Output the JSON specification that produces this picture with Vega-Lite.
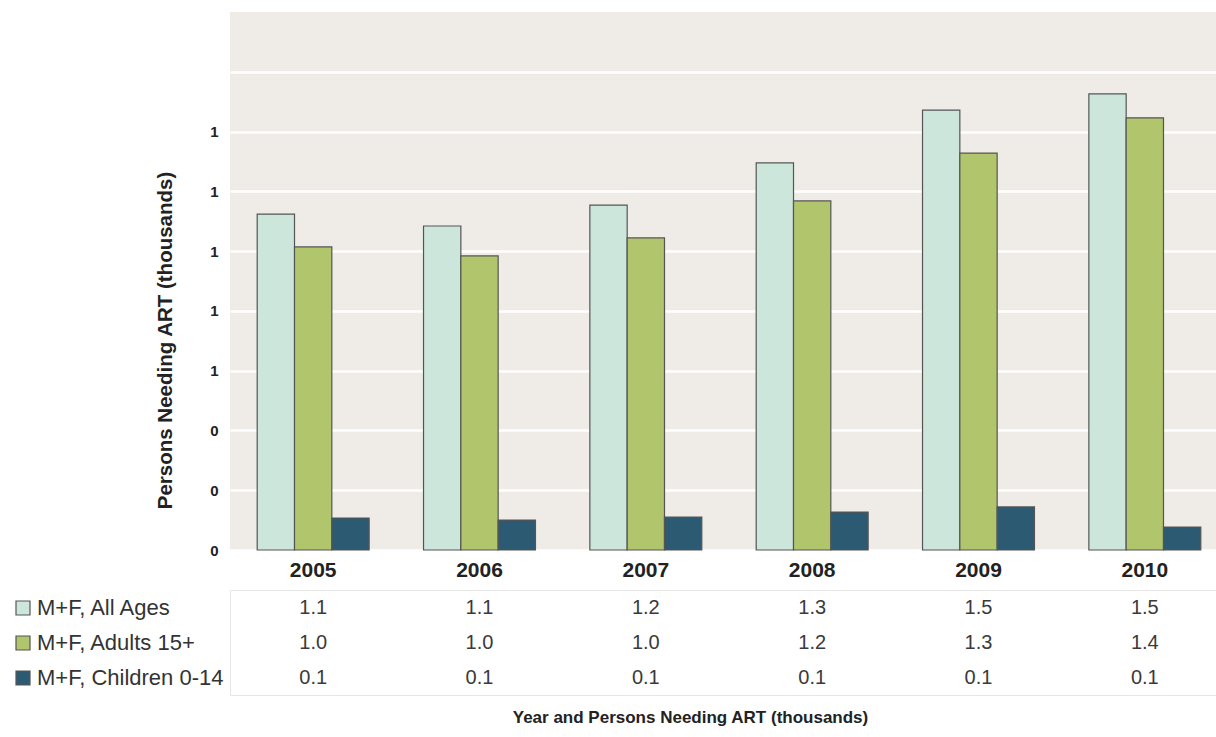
{
  "$schema": "https://vega.github.io/schema/vega-lite/v6.json",
  "padding": {"left": 12, "top": 12, "right": 0, "bottom": 0},
  "bounds": "flush",
  "spacing": 40,
  "config": {
    "font": "Liberation Sans",
    "axis": {"labelFont": "Liberation Sans", "titleFont": "Liberation Sans"},
    "legend": {"labelFont": "Liberation Sans"}
  },
  "datasets": {
    "art": [
      {"year": "2005", "series": "M+F, All Ages", "value": 1.124},
      {"year": "2006", "series": "M+F, All Ages", "value": 1.084},
      {"year": "2007", "series": "M+F, All Ages", "value": 1.154},
      {"year": "2008", "series": "M+F, All Ages", "value": 1.295},
      {"year": "2009", "series": "M+F, All Ages", "value": 1.472},
      {"year": "2010", "series": "M+F, All Ages", "value": 1.526},
      {"year": "2005", "series": "M+F, Adults 15+", "value": 1.014},
      {"year": "2006", "series": "M+F, Adults 15+", "value": 0.984},
      {"year": "2007", "series": "M+F, Adults 15+", "value": 1.044},
      {"year": "2008", "series": "M+F, Adults 15+", "value": 1.168},
      {"year": "2009", "series": "M+F, Adults 15+", "value": 1.328},
      {"year": "2010", "series": "M+F, Adults 15+", "value": 1.446},
      {"year": "2005", "series": "M+F, Children 0-14", "value": 0.107},
      {"year": "2006", "series": "M+F, Children 0-14", "value": 0.100},
      {"year": "2007", "series": "M+F, Children 0-14", "value": 0.110},
      {"year": "2008", "series": "M+F, Children 0-14", "value": 0.127},
      {"year": "2009", "series": "M+F, Children 0-14", "value": 0.144},
      {"year": "2010", "series": "M+F, Children 0-14", "value": 0.077}
    ]
  },
  "vconcat": [
    {
      "width": 986,
      "height": 538,
      "view": {"fill": "#efece7", "stroke": null},
      "data": {"name": "art"},
      "mark": {"type": "bar", "stroke": "#555555", "strokeWidth": 1.2},
      "encoding": {
        "x": {
          "field": "year", "type": "nominal",
          "scale": {"range": [0, 998], "paddingInner": 0.327, "paddingOuter": 0.1635},
          "axis": {"title": null, "labelAngle": 0, "ticks": false, "domain": false, "labelPadding": 9, "labelFontSize": 21, "labelFontWeight": "bold", "labelColor": "#222222"}
        },
        "xOffset": {
          "field": "series", "type": "nominal",
          "sort": ["M+F, All Ages", "M+F, Adults 15+", "M+F, Children 0-14"],
          "scale": {"paddingInner": 0, "paddingOuter": 0}
        },
        "y": {
          "field": "value", "type": "quantitative",
          "scale": {"domain": [0, 1.8], "nice": false},
          "axis": {
            "title": "Persons Needing ART (thousands)",
            "titleFontSize": 20.5, "titleFontWeight": "bold", "titleColor": "#222222",
            "titleX": -65, "titleY": 328, "titleBaseline": "middle", "titleAngle": -90, "titleAlign": "center",
            "values": [0, 0.2, 0.4, 0.6, 0.8, 1.0, 1.2, 1.4, 1.6],
            "labelExpr": "datum.value > 1.5 ? '' : format(datum.value, '.0f')",
            "labelFontSize": 15, "labelFontWeight": "bold", "labelColor": "#222222", "labelPadding": 12,
            "ticks": false, "domain": false,
            "grid": true, "gridColor": "#ffffff", "gridWidth": 2.5
          }
        },
        "color": {
          "field": "series", "type": "nominal",
          "sort": ["M+F, All Ages", "M+F, Adults 15+", "M+F, Children 0-14"],
          "scale": {"domain": ["M+F, All Ages", "M+F, Adults 15+", "M+F, Children 0-14"], "range": ["#cde6dc", "#b1c56c", "#2d5a73"]},
          "legend": {
            "title": null, "orient": "none", "legendX": -218, "legendY": 585,
            "symbolType": "square", "symbolSize": 196, "symbolStrokeColor": "#555555", "symbolStrokeWidth": 1.2,
            "labelFontSize": 22, "labelColor": "#333333", "labelOffset": 3, "labelLimit": 400, "rowPadding": 13, "padding": 0
          }
        }
      }
    },
    {
      "width": 986,
      "height": 105,
      "view": {"fill": null, "stroke": "#e6e6e6"},
      "data": {"name": "art"},
      "mark": {"type": "text", "fontSize": 20, "color": "#3a3a3a", "baseline": "middle"},
      "encoding": {
        "x": {
          "field": "year", "type": "nominal",
          "scale": {"range": [0, 998], "paddingInner": 0.327, "paddingOuter": 0.1635},
          "axis": {"labels": false, "ticks": false, "domain": false,
            "title": "Year and Persons Needing ART (thousands)", "titleFontSize": 17, "titleFontWeight": "bold", "titleColor": "#222222",
            "titlePadding": 14, "titleX": 460}
        },
        "y": {
          "field": "series", "type": "nominal",
          "sort": ["M+F, All Ages", "M+F, Adults 15+", "M+F, Children 0-14"],
          "scale": {"paddingInner": 0, "paddingOuter": 0},
          "axis": null
        },
        "text": {"field": "value", "type": "quantitative", "format": ".1f"}
      }
    }
  ]
}
